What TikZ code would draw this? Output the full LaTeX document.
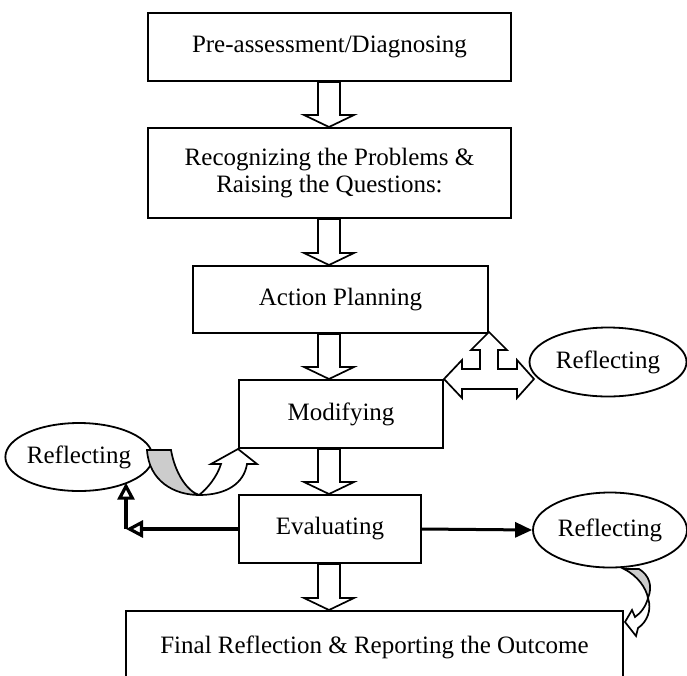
\documentclass[tikz,border=0pt]{standalone}
\usepackage{fontspec}
\setmainfont{Liberation Serif}
\usetikzlibrary{shapes.geometric,arrows.meta,calc}
\newcommand{\stagefont}{\fontsize{25}{27}\selectfont}
\newcommand{\downblock}[2]{%
  \draw[blockline] let \p1=(#1), \p2=(#2) in
    (\x1-11pt,\y1) -- (\x1-11pt,\y2+12pt) -- (\x1-25pt,\y2+12pt) -- (\x1,\y2)
    -- (\x1+25pt,\y2+12pt) -- (\x1+11pt,\y2+12pt) -- (\x1+11pt,\y1) -- cycle;}
\tikzset{
  stagebox/.style={draw, line width=2pt, inner sep=0pt, align=center, font=\stagefont},
  reflect/.style={draw, ellipse, line width=1.8pt, inner sep=0pt, font=\stagefont},
  blockline/.style={draw, line width=1.7pt, fill=white, line join=miter},
  backface/.style={draw, line width=1.7pt, fill=gray!40},
  openhead/.style={line width=3.2pt, -{Triangle[open,length=17pt,width=17pt]}},
  solidhead/.style={line width=3pt, -{Triangle[length=17pt,width=15pt]}}
}
\begin{document}
\begin{tikzpicture}[x=1pt,y=-1pt]
\useasboundingbox (0,0) rectangle (687,675);
\clip (0,0) rectangle (687,675);
\node[stagebox, minimum width=363pt, minimum height=68pt] (pre) at (329.5,47) {Pre-assessment/Diagnosing};
\node[stagebox, minimum width=363pt, minimum height=90pt] (recog) at (329.5,173) {Recognizing the Problems \&\\Raising the Questions:};
\node[stagebox, minimum width=295pt, minimum height=67pt] (plan) at (340.5,299.5) {Action Planning};
\node[stagebox, minimum width=204pt, minimum height=68pt] (mod) at (341,414) {Modifying};
\node[stagebox, minimum width=182pt, minimum height=68pt] (eval) at (330,529) {Evaluating};
\node[stagebox, minimum width=497pt, text height=42pt, text depth=50pt, inner ysep=0pt, anchor=north] (final) at (374.5,610) {Final Reflection \& Reporting the Outcome};
\node[reflect, minimum width=135pt, minimum height=68pt] (refL) at (79,457) {Reflecting};
\node[reflect, minimum width=157pt, minimum height=69pt] (refA) at (608,362) {Reflecting};
\node[reflect, minimum width=154pt, minimum height=75pt] (refB) at (610,530) {Reflecting};
\coordinate (axis) at (329,0);
\coordinate (elbow) at (126,0);
\downblock{pre.south -| axis}{recog.north -| axis}
\downblock{recog.south -| axis}{plan.north -| axis}
\downblock{plan.south -| axis}{mod.north -| axis}
\downblock{mod.south -| axis}{eval.north -| axis}
\downblock{eval.south -| axis}{final.north -| axis}
\coordinate (tjoin) at (plan.south east |- mod.north east);
\draw[blockline, shift={(tjoin)}] (0,-47) -- (18,-29) -- (9,-29) -- (9,-10) -- (28,-10) -- (28,-19)
  -- (45,0) -- (28,19) -- (28,10) -- (-27,10) -- (-27,19) -- (-45,0) -- (-27,-19) -- (-27,-10)
  -- (-9,-10) -- (-9,-29) -- (-18,-29) -- cycle;
\begin{scope}[shift={(mod.south west)}]
\draw[backface] (-91,1) -- (-67,1) .. controls (-63,24) and (-51,42) .. (-39,46)
  .. controls (-64,46) and (-89,32) .. (-91,1) -- cycle;
\draw[blockline] (-39,46) .. controls (-31,40) and (-21,28) .. (-17,15) -- (-27,15) -- (0,0)
  -- (19,15) -- (9,15) .. controls (6,34) and (-11,46) .. (-39,46) -- cycle;
\end{scope}
\begin{scope}[shift={(final.north east)}]
\draw[backface] (0,-41) -- (15,-41) .. controls (25,-35) and (29,-24) .. (24,-12)
  .. controls (22,-22) and (14,-34) .. (0,-41) -- cycle;
\draw[blockline] (24,-12) .. controls (28,0) and (23,12) .. (14,18) -- (12,26) -- (1,12)
  -- (8,0) -- (11,7) .. controls (17,3) and (22,-4) .. (24,-12) -- cycle;
\end{scope}
\draw[openhead] (eval.west) -- (eval.west -| elbow);
\draw[openhead] (eval.west -| elbow) -- (elbow |- refL.-27);
\draw[solidhead] (eval.east) -- (refB.west);
\end{tikzpicture}
\end{document}
